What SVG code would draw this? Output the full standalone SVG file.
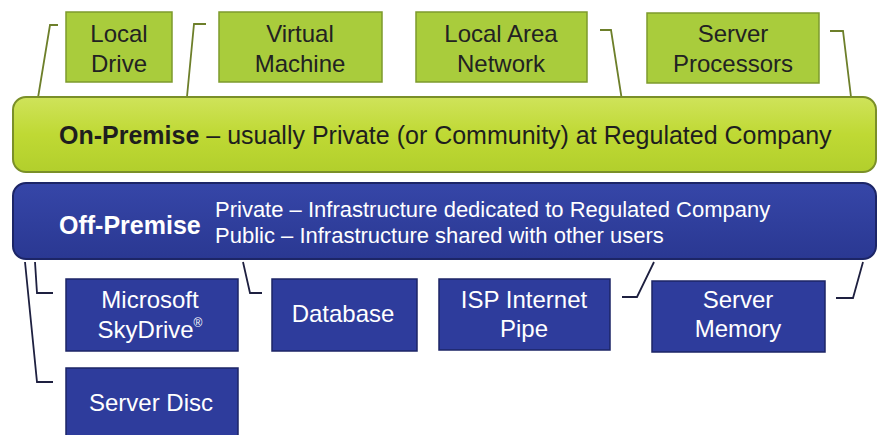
<svg xmlns="http://www.w3.org/2000/svg" width="878" height="435" viewBox="0 0 878 435">
<defs>
<linearGradient id="gbar" x1="0" y1="0" x2="0" y2="1">
<stop offset="0" stop-color="#cfe35a"/>
<stop offset="0.5" stop-color="#bfd934"/>
<stop offset="1" stop-color="#b2cf2c"/>
</linearGradient>
<linearGradient id="bbar" x1="0" y1="0" x2="0" y2="1">
<stop offset="0" stop-color="#3646a8"/>
<stop offset="1" stop-color="#2a3892"/>
</linearGradient>
<style>
.gbox{fill:#a9cc3c;stroke:#7d9a2c;stroke-width:1.5}
.bbox{fill:#2e3c9c;stroke:#1c2566;stroke-width:1.5}
.gtxt{font-family:"Liberation Sans",Arial,sans-serif;font-size:24px;fill:#222222;text-anchor:middle}
.btxt{font-family:"Liberation Sans",Arial,sans-serif;font-size:24px;fill:#ffffff;text-anchor:middle}
.gline{fill:none;stroke:#6d7f2a;stroke-width:1.8}
.bline{fill:none;stroke:#1e2040;stroke-width:1.8}
</style>
</defs>
<rect width="878" height="435" fill="#ffffff"/>
<g id="connectors">
<polyline class="gline" points="58,25 50,25 33,128"/>
<polyline class="gline" points="206,24 194,24 186,107"/>
<polyline class="gline" points="600,30 611,30 623,107"/>
<polyline class="gline" points="830,31 843,31 855,130"/>
<polyline class="bline" points="35,262 37,293 53,293"/>
<polyline class="bline" points="25,262 37,382 53,382"/>
<polyline class="bline" points="243,262 250,293 262,293"/>
<polyline class="bline" points="654,262 637,297 622,297"/>
<polyline class="bline" points="863,262 853,298 836,298"/>
</g>
<g id="on-premise">
<rect x="13" y="97" width="863" height="75" rx="13" fill="url(#gbar)" stroke="#7a8f28" stroke-width="2"/>
<text x="59" y="144" font-family="'Liberation Sans',Arial,sans-serif" font-size="25" fill="#1e1e1e"><tspan font-weight="bold">On-Premise</tspan> – usually Private (or Community) at Regulated Company</text>
</g>
<g id="off-premise">
<rect x="13" y="183" width="863" height="76" rx="13" fill="url(#bbar)" stroke="#1c2566" stroke-width="2"/>
<text x="59" y="234" font-family="'Liberation Sans',Arial,sans-serif" font-size="25" font-weight="bold" fill="#ffffff">Off-Premise</text>
<text x="215" y="217" font-family="'Liberation Sans',Arial,sans-serif" font-size="22" fill="#ffffff">Private – Infrastructure dedicated to Regulated Company</text>
<text x="215" y="243" font-family="'Liberation Sans',Arial,sans-serif" font-size="22" fill="#ffffff">Public – Infrastructure shared with other users</text>
</g>
<g id="local-drive">
<rect class="gbox" x="66" y="12" width="106" height="70"/>
<text class="gtxt" x="119" y="42">Local</text>
<text class="gtxt" x="119" y="72">Drive</text>
</g>
<g id="virtual-machine">
<rect class="gbox" x="219" y="12" width="163" height="70"/>
<text class="gtxt" x="300" y="42">Virtual</text>
<text class="gtxt" x="300" y="72">Machine</text>
</g>
<g id="local-area-network">
<rect class="gbox" x="416" y="12" width="171" height="70"/>
<text class="gtxt" x="501" y="42">Local Area</text>
<text class="gtxt" x="501" y="72">Network</text>
</g>
<g id="server-processors">
<rect class="gbox" x="647" y="13" width="172" height="70"/>
<text class="gtxt" x="733" y="42">Server</text>
<text class="gtxt" x="733" y="72">Processors</text>
</g>
<g id="microsoft-skydrive">
<rect class="bbox" x="66" y="279" width="172" height="72"/>
<text class="btxt" x="150" y="308">Microsoft</text>
<text class="btxt" x="150" y="338">SkyDrive<tspan font-size="12" dy="-11">®</tspan></text>
</g>
<g id="database">
<rect class="bbox" x="272" y="279" width="145" height="72"/>
<text class="btxt" x="343" y="322">Database</text>
</g>
<g id="isp-internet-pipe">
<rect class="bbox" x="439" y="279" width="171" height="71"/>
<text class="btxt" x="524" y="308">ISP Internet</text>
<text class="btxt" x="524" y="337">Pipe</text>
</g>
<g id="server-memory">
<rect class="bbox" x="652" y="281" width="173" height="71"/>
<text class="btxt" x="738" y="308">Server</text>
<text class="btxt" x="738" y="337">Memory</text>
</g>
<g id="server-disc">
<rect class="bbox" x="66" y="368" width="172" height="72"/>
<text class="btxt" x="151" y="411">Server Disc</text>
</g>
</svg>
